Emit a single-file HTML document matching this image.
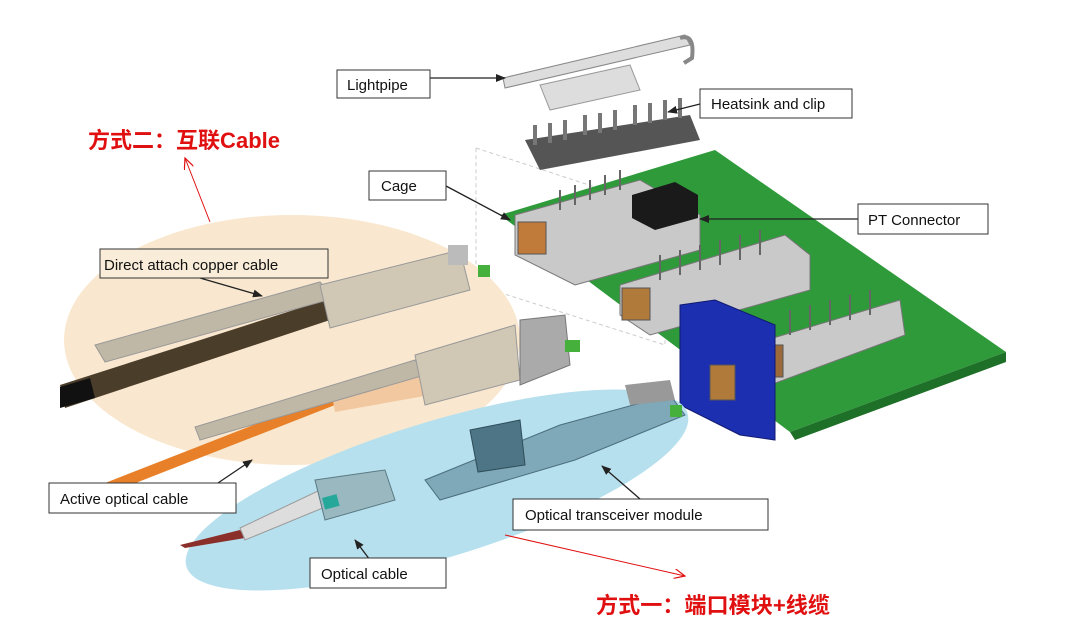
<!DOCTYPE html>
<html><head><meta charset="utf-8"><style>
html,body{margin:0;padding:0;background:#fff;}
svg{display:block;}
text{font-family:"Liberation Sans","Noto Sans CJK SC",sans-serif;}
</style></head><body>
<svg width="1077" height="627" viewBox="0 0 1077 627" xmlns="http://www.w3.org/2000/svg">
<defs>
<marker id="ab" markerWidth="10" markerHeight="8" refX="9" refY="4" orient="auto" markerUnits="userSpaceOnUse"><path d="M0,0 L10,4 L0,8 z" fill="#222"/></marker>
<marker id="ar" markerWidth="12" markerHeight="10" refX="11" refY="5" orient="auto" markerUnits="userSpaceOnUse"><path d="M0,0 L11,5 L0,10" fill="none" stroke="#e01010" stroke-width="1.2"/></marker>
</defs>
<polygon points="476,148 665,210 665,345 476,285" fill="none" stroke="#ccc" stroke-dasharray="4,3"/>
<polygon points="500,215 715,150 1006,352 790,432" fill="#2e9a3a"/>
<polygon points="790,432 1006,352 1006,362 795,440" fill="#1e6f28"/>
<g fill="#c9c9c9" stroke="#777" stroke-width="1">
<polygon points="515,215 640,180 700,215 700,250 575,285 515,255"/>
<polygon points="620,285 785,235 810,255 810,290 650,335 620,315"/>
<polygon points="750,345 900,300 905,335 770,385 750,375"/>
</g>
<g stroke="#666" stroke-width="2">
<path d="M560,210v-20M575,205v-20M590,200v-20M605,195v-20M620,190v-20"/>
<path d="M660,280v-25M680,275v-25M700,270v-25M720,265v-25M740,260v-25M760,255v-25"/>
<path d="M790,335v-25M810,330v-25M830,325v-25M850,320v-25M870,315v-25"/>
</g>
<rect x="518" y="222" width="28" height="32" fill="#c07a3a" stroke="#555"/>
<rect x="622" y="288" width="28" height="32" fill="#b07a3a" stroke="#555"/>
<rect x="755" y="345" width="28" height="32" fill="#9c6a3a" stroke="#555"/>
<polygon points="632,195 675,182 698,195 698,218 655,230 632,218" fill="#1a1a1a"/>
<polygon points="680,305 715,300 775,325 775,440 740,435 680,405" fill="#1c2fb0" stroke="#101a70"/>
<rect x="710" y="365" width="25" height="35" fill="#b07a3a" stroke="#555"/>
<polygon points="503,78 685,35 690,45 505,88" fill="#ddd" stroke="#888"/>
<path d="M680,38 q15,-5 12,20 l-8,5" fill="none" stroke="#888" stroke-width="4"/>
<polygon points="540,85 630,65 640,90 550,110" fill="#ddd" stroke="#999"/>
<polygon points="525,140 690,115 700,140 540,170" fill="#555"/>
<g stroke="#777" stroke-width="4">
<path d="M535,145v-20M550,143v-20M565,140v-20M585,135v-20M600,133v-20M615,130v-20M635,125v-20M650,123v-20M665,120v-20M680,118v-20"/>
</g>
<ellipse cx="292" cy="340" rx="228" ry="125" fill="#f9e8cf"/>
<polygon points="60,385 325,300 330,320 65,408" fill="#4a3d2a"/>
<polygon points="60,387 90,378 95,398 60,408" fill="#111"/>
<polygon points="95,345 320,282 335,298 105,362" fill="#c0b8a6" stroke="#999"/>
<polygon points="320,285 460,250 470,290 330,328" fill="#d0c7b5" stroke="#999"/>
<rect x="448" y="245" width="20" height="20" fill="#bbb"/>
<rect x="478" y="265" width="12" height="12" fill="#45b03c"/>
<polygon points="100,485 330,395 335,405 105,495" fill="#e8802a"/>
<polygon points="330,385 425,375 430,395 335,412" fill="#f2c8a0"/>
<polygon points="195,427 415,360 425,375 200,440" fill="#c0b8a6" stroke="#999"/>
<polygon points="415,355 515,325 520,380 425,405" fill="#d0c7b5" stroke="#999"/>
<polygon points="520,320 565,315 570,365 520,385" fill="#aaa" stroke="#777"/>
<rect x="565" y="340" width="15" height="12" fill="#45b03c"/>
<ellipse cx="437" cy="490" rx="262" ry="68" transform="rotate(-17 437 490)" fill="#b7e0ee"/>
<polygon points="425,480 560,425 670,395 685,415 575,460 440,500" fill="#7fa8b8" stroke="#4a6e7d"/>
<polygon points="470,430 520,420 525,465 478,472" fill="#4d7585" stroke="#2e4d5a"/>
<rect x="670" y="405" width="12" height="12" fill="#45b03c"/>
<polygon points="625,385 670,380 675,400 630,405" fill="#999"/>
<polygon points="180,545 240,530 245,538 185,548" fill="#8a2f2a"/>
<polygon points="240,528 320,490 330,505 245,540" fill="#ddd" stroke="#999"/>
<polygon points="315,480 385,470 395,500 325,520" fill="#9ab8c0" stroke="#5a7a84"/>
<rect x="322" y="498" width="15" height="12" fill="#25a89a" transform="rotate(-15 322 498)"/>
<g stroke="#222" stroke-width="1.3" fill="none">
<line x1="430" y1="78" x2="505" y2="78" marker-end="url(#ab)"/>
<line x1="700" y1="104" x2="668" y2="112" marker-end="url(#ab)"/>
<line x1="446" y1="186" x2="510" y2="220" marker-end="url(#ab)"/>
<line x1="858" y1="219" x2="700" y2="219" marker-end="url(#ab)"/>
<line x1="200" y1="278" x2="262" y2="296" marker-end="url(#ab)"/>
<line x1="215" y1="485" x2="252" y2="460" marker-end="url(#ab)"/>
<line x1="640" y1="499" x2="602" y2="466" marker-end="url(#ab)"/>
<line x1="370" y1="560" x2="355" y2="540" marker-end="url(#ab)"/>
</g>
<g stroke="#e01010" stroke-width="1" fill="none">
<line x1="210" y1="222" x2="185" y2="158" marker-end="url(#ar)"/>
<line x1="505" y1="535" x2="685" y2="576" marker-end="url(#ar)"/>
</g>
<g fill="#fff" stroke="#333" stroke-width="1">
<rect x="337" y="70" width="93" height="28"/>
<rect x="700" y="89" width="152" height="29"/>
<rect x="369" y="171" width="77" height="29"/>
<rect x="858" y="204" width="130" height="30"/>
<rect x="100" y="249" width="228" height="29" fill="#f9ecd8"/>
<rect x="49" y="483" width="187" height="30"/>
<rect x="513" y="499" width="255" height="31"/>
<rect x="310" y="558" width="136" height="30"/>
</g>
<g font-size="15" fill="#111">
<text x="347" y="90">Lightpipe</text>
<text x="711" y="109">Heatsink and clip</text>
<text x="381" y="191">Cage</text>
<text x="868" y="225">PT Connector</text>
<text x="104" y="270">Direct attach copper cable</text>
<text x="60" y="504">Active optical cable</text>
<text x="525" y="520">Optical transceiver module</text>
<text x="321" y="579">Optical cable</text>
</g>
<g fill="#e01010" font-weight="bold" font-size="22">
<text x="88" y="148" textLength="192" lengthAdjust="spacingAndGlyphs">方式二：互联Cable</text>
<text x="596" y="613" textLength="234" lengthAdjust="spacingAndGlyphs">方式一：端口模块+线缆</text>
</g>
</svg>
</body></html>
